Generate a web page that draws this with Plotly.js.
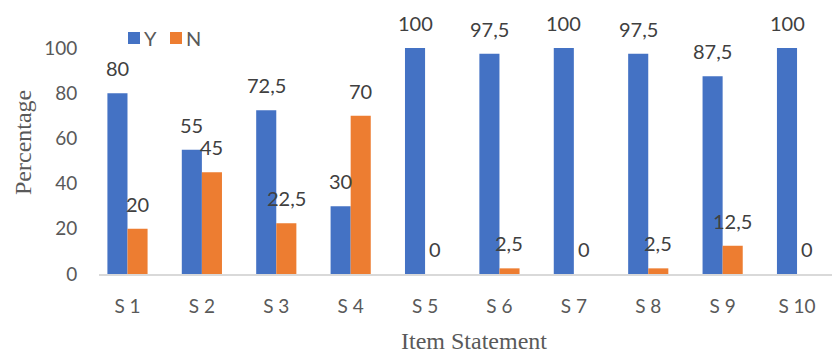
<!DOCTYPE html>
<html>
<head>
<meta charset="utf-8">
<script src="https://cdn.plot.ly/plotly-3.0.1.min.js"></script>
<style>html,body{margin:0;padding:0;background:#fff}#chart{width:832px;height:354px}</style>
</head>
<body>
<div id="chart"></div>
<script>
const categories = ["S 1","S 2","S 3","S 4","S 5","S 6","S 7","S 8","S 9","S 10"];
const seriesY = [80, 55, 72.5, 30, 100, 97.5, 100, 97.5, 87.5, 100];
const seriesN = [20, 45, 22.5, 70, 0, 2.5, 0, 2.5, 12.5, 0];
const seriesNames = ["Y", "N"];
const yTicks = [0, 20, 40, 60, 80, 100];

const colors = ["#4472C4", "#ED7D31"];
const labelFont = {family: "Lato, 'Open Sans', sans-serif", size: 20, color: "#404040"};
const fmt = v => String(v).replace(".", ",");

// plot area in pixels (for placing layout-only items)
const PL = 99, PW = 733, PB = 274, PH = 226;
const px2x = p => (p - PL) / PW;
const px2y = p => (PB - p) / PH;

const traces = [seriesY, seriesN].map((vals, i) => ({
  type: "bar",
  name: seriesNames[i],
  x: categories,
  y: vals,
  marker: {color: colors[i]},
  hoverinfo: "skip",
  showlegend: false
}));

const annotations = [];
[seriesY, seriesN].forEach((vals, i) => {
  vals.forEach((v, j) => {
    annotations.push({
      x: categories[j], y: v, xref: "x", yref: "y",
      xshift: i === 0 ? -10 : 10, yshift: 25,
      text: fmt(v), showarrow: false,
      xanchor: "center", yanchor: "middle",
      font: labelFont
    });
  });
});
annotations.push({
  xref: "paper", yref: "paper", x: px2x(474), y: px2y(341),
  text: "Item Statement", showarrow: false, xanchor: "center", yanchor: "middle",
  font: {family: "'Liberation Serif', 'Times New Roman', serif", size: 24, color: "#595959"}
});
annotations.push({
  xref: "paper", yref: "paper", x: px2x(23), y: px2y(143),
  text: "Percentage", showarrow: false, textangle: -90, xanchor: "center", yanchor: "middle",
  font: {family: "'Liberation Serif', 'Times New Roman', serif", size: 24, color: "#595959"}
});

// legend (swatch + name per series)
const legendStarts = [128, 170];
const shapes = [];
seriesNames.forEach((name, i) => {
  const x0 = legendStarts[i];
  shapes.push({
    type: "rect", xref: "paper", yref: "paper",
    x0: px2x(x0), x1: px2x(x0 + 12), y0: px2y(44), y1: px2y(32),
    fillcolor: colors[i], line: {width: 0}
  });
  annotations.push({
    xref: "paper", yref: "paper", x: px2x(x0 + 14), y: px2y(38),
    text: name, showarrow: false, xanchor: "left", yanchor: "middle",
    font: {family: "Lato, 'Open Sans', sans-serif", size: 20, color: "#595959"}
  });
});

const layout = {
  width: 832, height: 354,
  margin: {l: PL, r: 0, t: 48, b: 80},
  paper_bgcolor: "#ffffff", plot_bgcolor: "#ffffff",
  barmode: "group", bargap: 0.46, bargroupgap: 0,
  showlegend: false,
  xaxis: {
    type: "category", range: [-0.383, 9.47],
    showgrid: false, zeroline: false,
    showline: true, linecolor: "#d9d9d9", linewidth: 2,
    ticks: "outside", ticklen: 14, tickcolor: "rgba(0,0,0,0)",
    tickfont: {family: "Lato, 'Open Sans', sans-serif", size: 19, color: "#595959"},
    fixedrange: true
  },
  yaxis: {
    range: [0, 100], tickvals: yTicks, ticktext: yTicks.map(String),
    showgrid: false, zeroline: false, showline: false,
    ticks: "outside", ticklen: 17, tickcolor: "rgba(0,0,0,0)",
    tickfont: {family: "Lato, 'Open Sans', sans-serif", size: 19, color: "#595959"},
    fixedrange: true
  },
  shapes: shapes,
  annotations: annotations
};

Plotly.newPlot("chart", traces, layout, {displayModeBar: false, staticPlot: true});
</script>
</body>
</html>
